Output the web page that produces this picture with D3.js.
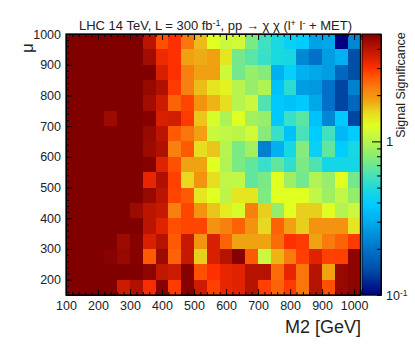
<!DOCTYPE html>
<html lang="en">
<head>
<meta charset="utf-8">
<title>Signal Significance</title>
<script src="https://cdnjs.cloudflare.com/ajax/libs/d3/7.8.5/d3.min.js"></script>
<style>
    html, body { margin: 0; padding: 0; background: #fff; }
    svg { display: block; }
    text { font-family: "Liberation Sans", Arial, sans-serif; fill: #222; }
    .axis text { font-size: 12.5px; }
    .axis line, .axis path { stroke: #000; }
</style>
</head>
<body>
<svg id="chart" width="415" height="352"></svg>
<script>
    // bin lower edges
    const m2Bins = [100,140,180,220,260,300,340,380,420,460,500,540,580,620,660,700,740,780,820,860,900,940,980];
    const muBins = [150,200,250,300,350,400,450,500,550,600,650,700,750,800,850,900,950];

    // significance, one row per mu bin (bottom to top), one value per m2 bin
    const sig150 = [5,5,5,5,3.7,4.2,3.1,4.9,2.9,4.9,3.7,2.85,3.3,3.4,4.1,2.85,2.5,2.9,2.3,4.1,2.7,4.6,4.75];
    const sig200 = [5,5,5,5,5,5,4.75,3.9,3.7,4.9,2.7,3.0,3.3,3.4,4.1,4.1,2.4,3.3,2.3,4.1,1.85,4.6,4.75];
    const sig250 = [5,5,5,4.85,4.6,4.9,2.6,4.5,2.5,3.8,1.6,3.5,4.1,4.9,2.6,1.1,1.75,2.25,2.85,3.4,2.85,2.85,4.75];
    const sig300 = [5,5,5,5,4.5,4.9,3.5,4.1,2.6,3.8,2.0,3.5,2.5,1.85,1.85,1.85,2.4,3.0,2.9,1.85,2.25,2.5,2.9];
    const sig350 = [5,5,5,5,5,5,4.0,3.4,2.7,2.8,2.8,2.0,2.2,2.5,2.0,1.55,2.5,1.87,1.6,2.0,2.0,2.0,1.45];
    const sig400 = [5,5,5,5,5,4.5,4.0,3.8,2.2,2.8,2.0,1.65,1.4,1.2,2.2,1.6,0.84,1.27,1.6,1.6,1.27,0.98,1.1];
    const sig450 = [5,5,5,5,5,5,4.6,4.0,2.8,2.6,1.45,1.27,1.02,1.45,1.45,0.76,1.27,1.27,1.27,1.05,0.88,1.05,0.84];
    const sig500 = [5,5,5,5,5,5,3.3,4.2,2.85,1.55,2.0,1.5,1.05,1.05,0.67,0.75,1.27,0.88,0.72,0.97,0.85,1.27,0.72];
    const sig550 = [5,5,5,5,5,5,4.9,3.4,2.7,1.85,1.85,1.27,0.97,0.75,0.67,0.56,0.67,0.54,0.75,0.62,0.46,0.46,0.46];
    const sig600 = [5,5,5,5,5,5,4.5,4.2,2.2,2.6,1.5,1.65,1.0,0.75,0.9,0.22,0.31,0.47,0.78,0.42,0.67,0.39,0.47];
    const sig650 = [5,5,5,5,5,5,4.6,4.0,2.6,2.3,1.87,1.1,1.05,1.02,1.15,0.78,0.56,0.36,0.6,0.39,0.58,0.33,0.39];
    const sig700 = [5,5,5,4.5,5,5,4.9,3.5,3.6,2.9,1.65,1.2,0.95,1.27,0.9,0.85,0.38,0.56,0.65,0.36,0.23,0.38,0.14];
    const sig750 = [5,5,5,5,5,5,4.4,3.7,2.5,2.8,2.0,1.75,1.5,1.0,1.1,0.62,0.38,0.36,0.38,0.29,0.195,0.14,0.18];
    const sig800 = [5,5,5,5,5,5,4.6,4.2,2.9,2.2,1.7,1.45,1.35,1.0,0.85,0.97,0.36,0.52,0.27,0.26,0.195,0.14,0.22];
    const sig850 = [5,5,5,5,5,5,5,3.5,3.0,2.2,1.87,1.87,1.12,0.72,0.85,0.78,0.31,0.41,0.31,0.29,0.27,0.18,0.148];
    const sig900 = [5,5,5,5,5,5,4.4,3.2,3.0,1.87,1.8,1.87,1.45,0.72,0.65,0.56,0.48,0.47,0.23,0.195,0.27,0.31,0.148];
    const sig950 = [5,5,5,5,5,5,4.0,2.7,3.0,2.3,1.7,1.27,1.1,1.15,0.75,0.58,0.48,0.42,0.39,0.28,0.29,0.1,0.23];
    const rows = [sig150,sig200,sig250,sig300,sig350,sig400,sig450,sig500,sig550,sig600,sig650,sig700,sig750,sig800,sig850,sig900,sig950];

    // colour palette
    const palValues = [0.1,0.148,0.195,0.246,0.31,0.39,0.48,0.58,0.71,0.89,1.09,1.27,1.55,1.87,2.2,2.7,3.0,3.5,4.2,5];
    const palColors = ["#000080","#0050a8","#0070c8","#0090d8","#00b0f0","#00ccff","#18d8e0","#40e0c0","#70e890","#a0f060",
                       "#c8f840","#e0ff20","#e8d820","#f0a010","#f88010","#ff5000","#ff3000","#d82000","#b01000","#800000"];

    const barTicks = [0.2,0.3,0.4,0.5,0.6,0.7,0.8,0.9,1,2,3,4];

    const margin = {top: 34, right: 54, bottom: 57, left: 66},
        plotW = 294.5,
        plotH = 261;

    const svg = d3.select("#chart");
    const g = svg.append("g").attr("transform", "translate(" + margin.left + "," + margin.top + ")");

    const x = d3.scaleLinear().domain([100, 1020]).range([0, plotW]);
    const y = d3.scaleLinear().domain([150, 1000]).range([plotH, 0]);
    const color = d3.scaleLog().domain(palValues).range(palColors).interpolate(d3.interpolateRgb).clamp(true);

    const binW = m2Bins[1] - m2Bins[0], binH = muBins[1] - muBins[0];

    rows.forEach(function(row, j) {
        g.selectAll(".cell" + j)
            .data(row)
            .enter().append("rect")
            .attr("x", function(d, i) { return x(m2Bins[i]); })
            .attr("y", y(muBins[j] + binH))
            .attr("width", x(binW) - x(0))
            .attr("height", y(0) - y(binH))
            .attr("shape-rendering", "crispEdges")
            .attr("fill", function(d) { return color(d); });
    });

    // axes: ticks point into the plot, ROOT style
    const xMinor = d3.range(100, 1020, 20), yMinor = d3.range(160, 1000.1, 20);

    g.append("g").attr("class", "axis")
        .attr("transform", "translate(0," + plotH + ")")
        .call(d3.axisBottom(x).tickValues(xMinor).tickSize(-3).tickFormat(""));
    const xAxis = g.append("g").attr("class", "axis")
        .attr("transform", "translate(0," + plotH + ")")
        .call(d3.axisBottom(x).tickValues(d3.range(100, 1001, 100)).tickSize(-6).tickPadding(4).tickFormat(d3.format("d")));
    xAxis.selectAll("text").attr("dy", "0.85em");

    g.append("g").attr("class", "axis")
        .call(d3.axisLeft(y).tickValues(yMinor).tickSize(-3).tickFormat(""));
    g.append("g").attr("class", "axis")
        .call(d3.axisLeft(y).tickValues(d3.range(200, 1001, 100)).tickSize(-6).tickPadding(5).tickFormat(d3.format("d")));

    g.append("g").attr("class", "axis")
        .call(d3.axisTop(x).tickValues(xMinor).tickSize(-3).tickFormat(""));
    g.append("g").attr("class", "axis")
        .call(d3.axisTop(x).tickValues(d3.range(100, 1001, 100)).tickSize(-6).tickFormat(""));

    g.append("rect")
        .attr("width", plotW).attr("height", plotH)
        .attr("fill", "none").attr("stroke", "#000").attr("stroke-width", 1.3);

    // colour bar
    const barX = 296, barW = 19;
    const barScale = d3.scaleLog().domain([0.1, 5]).range([plotH, 0]);
    const barSteps = d3.range(0, plotH, 1);
    g.selectAll(".barstep")
        .data(barSteps)
        .enter().append("rect")
        .attr("x", barX)
        .attr("y", function(d) { return d; })
        .attr("width", barW)
        .attr("height", 1.5)
        .attr("fill", function(d) { return color(barScale.invert(d + 0.5)); });

    const barAxis = g.append("g").attr("class", "axis")
        .attr("transform", "translate(" + (barX + barW) + ",0)");
    barAxis.call(d3.axisRight(barScale).tickValues(barTicks).tickSize(-4).tickFormat(""));
    barAxis.selectAll(".tick").filter(function(d) { return d === 1; }).select("line").attr("x2", -9);

    g.append("rect")
        .attr("x", barX).attr("width", barW).attr("height", plotH)
        .attr("fill", "none").attr("stroke", "#000").attr("stroke-width", 1);

    g.append("text").attr("x", barX + barW + 5).attr("y", barScale(1) + 5)
        .style("font-size", "13px").text("1");
    const tenth = g.append("text").attr("x", barX + barW + 5).attr("y", plotH + 5)
        .style("font-size", "12.5px").text("10");
    tenth.append("tspan").attr("dy", -4).style("font-size", "8.5px").text("-1");

    g.append("text")
        .attr("transform", "translate(339,51) rotate(-90)")
        .attr("text-anchor", "middle")
        .style("font-size", "12.5px")
        .text("Signal Significance");

    // titles
    const title = svg.append("text").attr("x", 79).attr("y", 30).style("font-size", "13px");
    title.append("tspan").text("LHC 14 TeV, L = 300 fb");
    title.append("tspan").attr("dy", -4).style("font-size", "9px").text("-1");
    title.append("tspan").attr("dy", 4).text(", pp \u2192 \u03c7 \u03c7 (l");
    title.append("tspan").attr("dy", -4).style("font-size", "9px").text("+");
    title.append("tspan").attr("dy", 4).text(" l");
    title.append("tspan").attr("dy", -4).style("font-size", "9px").text("-");
    title.append("tspan").attr("dy", 4).text(" + MET)");

    svg.append("text")
        .attr("x", 361).attr("y", 333)
        .attr("text-anchor", "end")
        .style("font-size", "18px")
        .text("M2 [GeV]");

    svg.append("text")
        .attr("transform", "translate(33,48) rotate(-90)")
        .attr("text-anchor", "middle")
        .style("font-size", "17px")
        .text("\u03bc");
</script>
</body>
</html>
